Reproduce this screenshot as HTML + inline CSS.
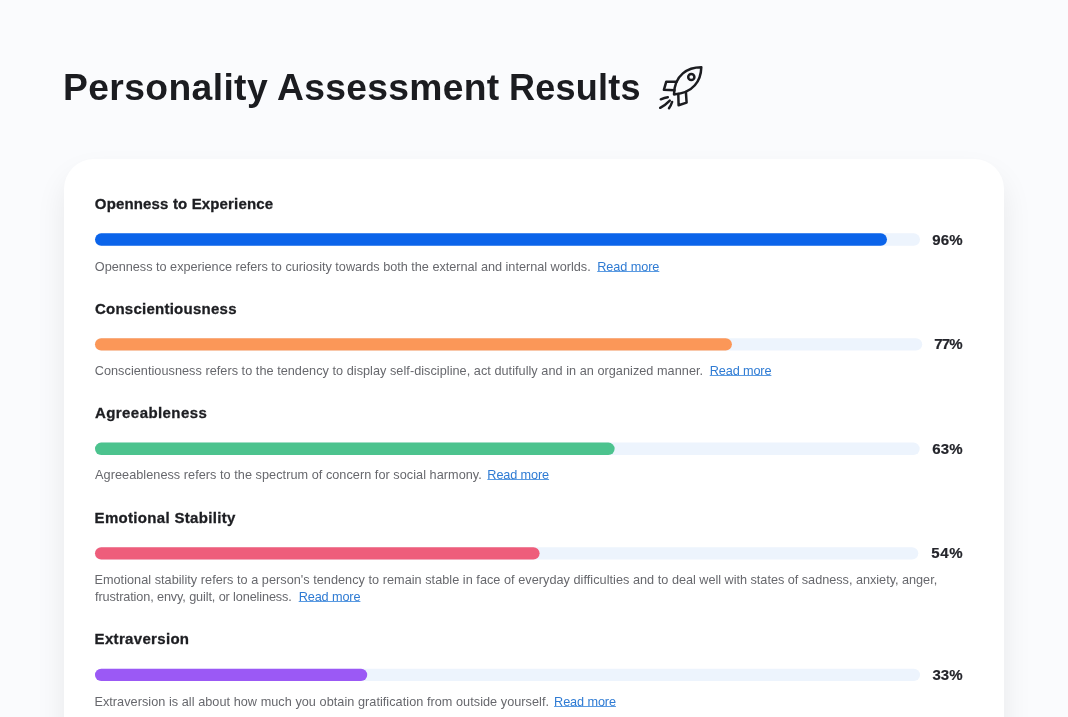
<!DOCTYPE html>
<html lang="en">
<head>
<meta charset="utf-8">
<title>Personality Assessment Results</title>
<style>
html,body{margin:0;padding:0;}
body{width:1068px;height:717px;overflow:hidden;background:#fafbfd;font-family:"Liberation Sans",sans-serif;position:relative;color:#1c1d21;}
.title{position:absolute;left:0;top:0;margin:0;font-size:36px;line-height:1;font-weight:700;color:#1b1c20;white-space:nowrap;}
.title span{position:absolute;}
.rocket{position:absolute;left:655px;top:60px;width:52px;height:52px;}
.card{position:absolute;left:64px;top:159px;width:940px;height:640px;background:#fff;border-radius:30px;box-shadow:0 16px 30px rgba(0,0,0,0.08);}
.sec{position:absolute;left:0;top:0;}
.sec h2{position:absolute;margin:0;font-size:15px;line-height:1;font-weight:700;color:#1d1e22;white-space:nowrap;-webkit-text-stroke:0.3px #1d1e22;}
.bar{position:absolute;left:31px;width:830px;height:16px;overflow:visible;}
.bar .track{fill:#edf4fd;}
.pct{position:absolute;font-size:15px;font-weight:700;color:#24252b;-webkit-text-stroke:0.2px #24252b;line-height:1;white-space:nowrap;}
.desc{position:absolute;left:0;top:0;margin:0;font-size:12.7px;line-height:1;color:#67686d;white-space:nowrap;}
.desc span,.desc a{position:absolute;}
.desc a{color:#2f7bd3;text-decoration:underline;text-decoration-color:#5a9be3;text-decoration-thickness:1px;text-underline-offset:0;}
</style>
</head>
<body>
<h1 class="title"><span id="t1" style="left:63.48px;top:70.30px;letter-spacing:0.361px;transform:scaleX(1.035);transform-origin:0 0;">Personality</span> <span id="t2" style="left:276.97px;top:70.30px;letter-spacing:0.292px;transform:scaleX(1.035);transform-origin:0 0;">Assessment</span> <span id="t3" style="left:509.10px;top:70.30px;letter-spacing:0.211px;">Results</span></h1>
<svg class="rocket" viewBox="0 0 52 52" fill="none" stroke="#1b1c20" stroke-width="2.5" stroke-linecap="round" stroke-linejoin="round">
<path d="M46.3 7.2 C 33 7.2, 19.5 14.5, 19.0 34.4 C 38.5 33, 46 20.5, 46.3 7.2 Z"/>
<circle cx="36.3" cy="17" r="3.1"/>
<path d="M21.6 21.8 L 11.2 21.8 L 8.9 29.8 L 19.3 30.2"/>
<path d="M23.3 34 L 23.6 45.2 L 31.6 42.6 L 30.9 32"/>
<path d="M5.8 39.3 Q 9.5 37.6 12.8 37.2"/><path d="M5.2 47.8 Q 10.5 45 14.8 40.6"/><path d="M14 48.3 Q 16 45.5 17.1 42"/>
</svg>
<div class="card">
<section class="sec">
 <h2 id="h1" style="left:30.85px;top:36.85px;letter-spacing:0.149px;">Openness to Experience</h2>
 <svg class="bar" style="top:73px" viewBox="0 0 830 16"><rect class="track" x="0" y="1.35" width="825.0" height="12.4" rx="6.2"/><rect class="fill" x="0" y="1.35" width="792.0" height="12.4" rx="6.2" fill="#0b64ea"/></svg>
 <span class="pct" id="p1" style="left:868.15px;top:73.00px;letter-spacing:0.267px;">96%</span>
 <p class="desc"><span id="d1" style="left:30.80px;top:102.00px;letter-spacing:-0.015px;">Openness to experience refers to curiosity towards both the external and internal worlds.</span> <a id="l1" style="left:533.23px;top:102.00px;letter-spacing:-0.076px;">Read more</a></p>
</section>
<section class="sec">
 <h2 id="h2" style="left:30.89px;top:141.65px;letter-spacing:0.256px;">Conscientiousness</h2>
 <svg class="bar" style="top:178px" viewBox="0 0 830 16"><rect class="track" x="0" y="1.15" width="827.2" height="12.4" rx="6.2"/><rect class="fill" x="0" y="1.15" width="636.9" height="12.4" rx="6.2" fill="#fb9758"/></svg>
 <span class="pct" id="p2" style="left:870.21px;top:177.00px;letter-spacing:-0.761px;">77%</span>
 <p class="desc"><span id="d2" style="left:30.74px;top:206.00px;letter-spacing:0.036px;">Conscientiousness refers to the tendency to display self-discipline, act dutifully and in an organized manner.</span> <a id="l2" style="left:645.75px;top:206.00px;letter-spacing:-0.126px;">Read more</a></p>
</section>
<section class="sec">
 <h2 id="h3" style="left:31.00px;top:246.10px;letter-spacing:0.422px;">Agreeableness</h2>
 <svg class="bar" style="top:282px" viewBox="0 0 830 16"><rect class="track" x="0" y="1.60" width="824.7" height="12.4" rx="6.2"/><rect class="fill" x="0" y="1.60" width="519.6" height="12.4" rx="6.2" fill="#4cc38e"/></svg>
 <span class="pct" id="p3" style="left:868.18px;top:282.00px;letter-spacing:0.253px;">63%</span>
 <p class="desc"><span id="d3" style="left:31.10px;top:310.00px;letter-spacing:0.040px;">Agreeableness refers to the spectrum of concern for social harmony.</span> <a id="l3" style="left:423.35px;top:310.00px;letter-spacing:-0.121px;">Read more</a></p>
</section>
<section class="sec">
 <h2 id="h4" style="left:30.59px;top:350.65px;letter-spacing:0.316px;">Emotional Stability</h2>
 <svg class="bar" style="top:387px" viewBox="0 0 830 16"><rect class="track" x="0" y="1.15" width="823.3" height="12.4" rx="6.2"/><rect class="fill" x="0" y="1.15" width="444.6" height="12.4" rx="6.2" fill="#ee5d7b"/></svg>
 <span class="pct" id="p4" style="left:867.36px;top:386.00px;letter-spacing:0.663px;">54%</span>
 <p class="desc"><span id="d4a" style="left:30.40px;top:415.00px;letter-spacing:0.032px;">Emotional stability refers to a person's tendency to remain stable in face of everyday difficulties and to</span> <span id="d4c" style="left:607.90px;top:415.00px;letter-spacing:-0.022px;">deal well with states of sadness, anxiety, anger,</span> <span id="d4b" style="left:31.09px;top:432.00px;letter-spacing:-0.121px;">frustration, envy, guilt, or loneliness.</span> <a id="l4" style="left:234.70px;top:432.00px;letter-spacing:-0.116px;">Read more</a></p>
</section>
<section class="sec">
 <h2 id="h5" style="left:30.59px;top:472.20px;letter-spacing:0.325px;">Extraversion</h2>
 <svg class="bar" style="top:508px" viewBox="0 0 830 16"><rect class="track" x="0" y="1.70" width="825.0" height="12.4" rx="6.2"/><rect class="fill" x="0" y="1.70" width="272.2" height="12.4" rx="6.2" fill="#9b59f5"/></svg>
 <span class="pct" id="p5" style="left:868.39px;top:508.00px;letter-spacing:0.148px;">33%</span>
 <p class="desc"><span id="d5" style="left:30.40px;top:537.00px;letter-spacing:0.041px;">Extraversion is all about how much you obtain gratification from outside yourself.</span> <a id="l5" style="left:490.10px;top:537.00px;letter-spacing:-0.105px;">Read more</a></p>
</section>
</div>
</body>
</html>
